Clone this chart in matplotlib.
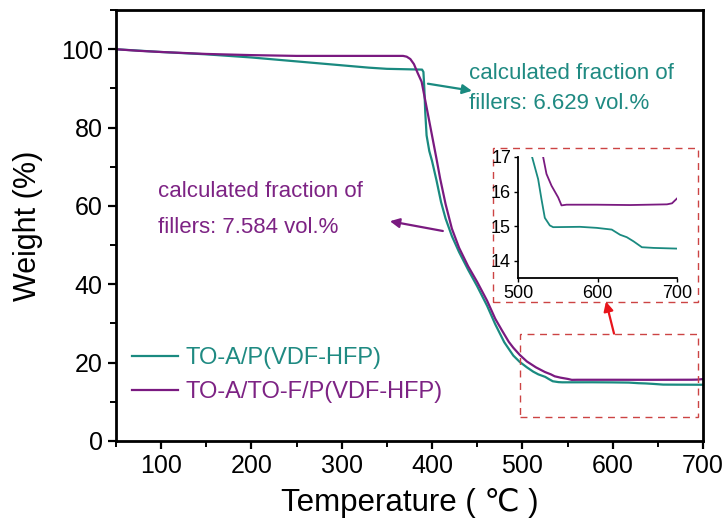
import matplotlib
matplotlib.use("Agg")
import matplotlib.pyplot as plt
from matplotlib.patches import Rectangle

plt.rcParams['font.family'] = ['Liberation Sans', 'DejaVu Sans']

# ---- data ----
teal_T = [50, 100, 150, 200, 250, 300, 330, 350, 389, 390.5, 391.5, 392.5, 394, 397, 400, 405, 410, 415, 422,
          430, 440, 450, 461, 470, 480, 490, 497, 505, 512, 517.7, 525.3, 529.5, 533.7, 540, 544.2, 577.9,
          598.9, 617.9, 628.4, 636.8, 645.3, 655.8, 670.5, 700]
teal_W = [100, 99.3, 98.7, 97.9, 96.9, 95.9, 95.3, 95.0, 94.8, 94.2, 90, 84, 78, 74, 71.5, 66.5, 61, 56.8, 52.3,
          48.2, 43.7, 39.5, 34.5, 29.8, 25.2, 21.8, 20.2, 18.8, 17.7, 17.0, 16.36, 15.78, 15.24, 15.02, 14.97, 14.98,
          14.95, 14.9, 14.75, 14.68, 14.56, 14.39, 14.37, 14.35]

purple_T = [50, 75, 100, 150, 200, 250, 300, 350, 368, 372, 376, 380, 384, 388.5, 395, 400, 405, 409, 415, 422,
            430, 440, 450, 461, 470, 477.5, 485, 490, 497, 505, 515, 525, 531.6, 535.8, 542.1, 550.5, 554.7,
            561, 598.9, 641, 687.4, 693.7, 700]
purple_W = [100, 99.6, 99.3, 98.8, 98.5, 98.3, 98.3, 98.3, 98.3, 98.1, 97.5, 96.2, 94.0, 91.7, 84, 78, 72, 67, 60.5, 54.2,
            49.3, 44.6, 40.6, 35.8, 31.2, 28.2, 25.3, 23.8, 22.0, 20.3, 18.8, 17.6, 17.0, 16.51, 16.17, 15.83, 15.6,
            15.62, 15.62, 15.61, 15.63, 15.66, 15.8]

labels = ["TO-A/P(VDF-HFP)", "TO-A/TO-F/P(VDF-HFP)"]
teal = "#1a8a80"
purple = "#7a1a80"
teal_txt = "#1f8a82"
purple_txt = "#7d2384"
red_box = "#cc4444"

x_ticks = [100, 200, 300, 400, 500, 600, 700]
y_ticks = [0, 20, 40, 60, 80, 100]
inset_xticks = [500, 600, 700]
inset_yticks = [14, 15, 16, 17]

fig = plt.figure(figsize=(7.24, 5.30), dpi=100)
ax = fig.add_axes([0.160, 0.168, 0.811, 0.813])

ax.plot(teal_T, teal_W, color=teal, lw=1.6, label=labels[0])
ax.plot(purple_T, purple_W, color=purple, lw=1.6, label=labels[1])

ax.set_xlim(50, 700)
ax.set_ylim(0, 110)
ax.set_xticks(x_ticks)
ax.set_yticks(y_ticks)
ax.set_xticks(list(range(50, 701, 50)), minor=True)
ax.set_yticks(list(range(0, 111, 10)), minor=True)
ax.tick_params(which='major', direction='out', length=6, width=1.6, labelsize=18, top=False, right=False)
ax.tick_params(which='minor', direction='out', length=4, width=1.4, top=False, right=False)
for s in ax.spines.values():
    s.set_linewidth(2.0)
ax.set_xlabel("Temperature ( ℃ )", fontsize=22.5, labelpad=7)
ax.set_ylabel("Weight (%)", fontsize=22, labelpad=13)

leg = ax.legend(loc='lower left', bbox_to_anchor=(0.0, 0.05), frameon=False, fontsize=17,
                handlelength=1.95, handletextpad=0.3, labelspacing=0.5, borderaxespad=0.3)
for txt, c in zip(leg.get_texts(), [teal_txt, purple_txt]):
    txt.set_color(c)

# annotations
ax.text(441, 93.7, "calculated fraction of", color=teal_txt, fontsize=16, va='center', ha='left')
ax.text(441, 86.1, "fillers: 6.629 vol.%", color=teal_txt, fontsize=16, va='center', ha='left')
ax.annotate("", xy=(444.2, 89.4), xytext=(395.5, 91.2),
            arrowprops=dict(arrowstyle='-|>', color=teal, lw=1.6, mutation_scale=14, shrinkA=0, shrinkB=0))

ax.text(96.5, 63.8, "calculated fraction of", color=purple_txt, fontsize=16, va='center', ha='left')
ax.text(96.5, 54.4, "fillers: 7.584 vol.%", color=purple_txt, fontsize=16, va='center', ha='left')
ax.annotate("", xy=(353.4, 56.1), xytext=(412, 53.6),
            arrowprops=dict(arrowstyle='-|>', color=purple, lw=1.6, mutation_scale=14, shrinkA=0, shrinkB=0))

# dashed boxes and red arrow
ax.add_patch(Rectangle((497, 6.1), 694.5 - 497, 27.4 - 6.1, fill=False, ls=(0, (5, 4)), lw=1.0,
                       ec=red_box, zorder=3))
ax.add_patch(Rectangle((467.2, 35.6), 694.5 - 467.2, 74.7 - 35.6, fill=False, ls=(0, (5, 4)), lw=1.0,
                       ec=red_box, zorder=3))
ax.annotate("", xy=(592.6, 35.6), xytext=(601.5, 27.4),
            arrowprops=dict(arrowstyle='-|>', color='#e8141b', lw=1.6, mutation_scale=14, shrinkA=0, shrinkB=0))

# inset
ins = fig.add_axes([0.7155, 0.4755, 0.2196, 0.2283])
ins.plot(teal_T, teal_W, color=teal, lw=1.3)
ins.plot(purple_T, purple_W, color=purple, lw=1.3)
ins.set_xlim(500, 700)
ins.set_ylim(13.5, 17)
ins.set_xticks(inset_xticks)
ins.set_yticks(inset_yticks)
ins.spines['top'].set_visible(False)
ins.spines['right'].set_visible(False)
for s in ['left', 'bottom']:
    ins.spines[s].set_linewidth(1.3)
ins.tick_params(direction='out', length=3, width=1.0, labelsize=13, pad=2)
ins.patch.set_alpha(0)

fig.savefig("out.png", dpi=100)
